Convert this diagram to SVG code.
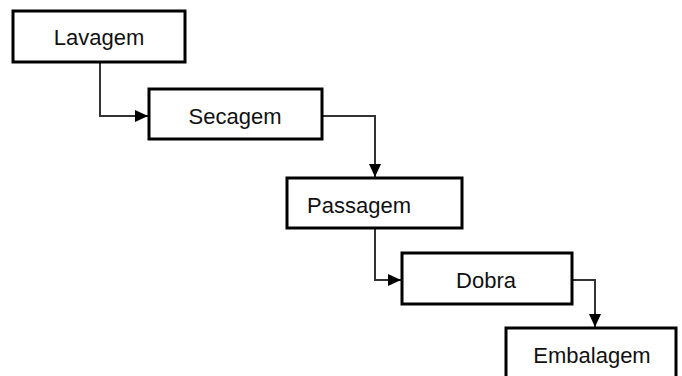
<svg xmlns="http://www.w3.org/2000/svg" width="682" height="376" viewBox="0 0 682 376">
<style>
.box{fill:#fff;stroke:#000;stroke-width:3}
.lbl{font-family:"Liberation Sans",Arial,sans-serif;font-size:22px;fill:#111}
.con{fill:none;stroke:#333;stroke-width:2}
</style>
<defs>
<marker id="ah" markerWidth="13" markerHeight="12" refX="13" refY="6" orient="auto" markerUnits="userSpaceOnUse">
<path d="M0,0 L13,6 L0,12 Z" fill="#000"/>
</marker>
</defs>
<rect width="682" height="376" fill="#fff"/>
<g id="connectors">
<path class="con" d="M100,62 V116 H148" marker-end="url(#ah)"/>
<path class="con" d="M322,116 H375 V177" marker-end="url(#ah)"/>
<path class="con" d="M375,228 V280 H401" marker-end="url(#ah)"/>
<path class="con" d="M572,280 H595 V327" marker-end="url(#ah)"/>
</g>
<g id="lavagem">
<rect class="box" x="13" y="11" width="172" height="51"/>
<text class="lbl" x="99" y="45" text-anchor="middle">Lavagem</text>
</g>
<g id="secagem">
<rect class="box" x="149" y="89" width="173" height="50"/>
<text class="lbl" x="235" y="124" text-anchor="middle">Secagem</text>
</g>
<g id="passagem">
<rect class="box" x="287" y="178" width="175" height="50"/>
<text class="lbl" x="359" y="213" text-anchor="middle">Passagem</text>
</g>
<g id="dobra">
<rect class="box" x="402" y="253" width="170" height="51"/>
<text class="lbl" x="486" y="288" text-anchor="middle">Dobra</text>
</g>
<g id="embalagem">
<rect class="box" x="506" y="328" width="170" height="60"/>
<text class="lbl" x="592" y="363" text-anchor="middle">Embalagem</text>
</g>
</svg>
